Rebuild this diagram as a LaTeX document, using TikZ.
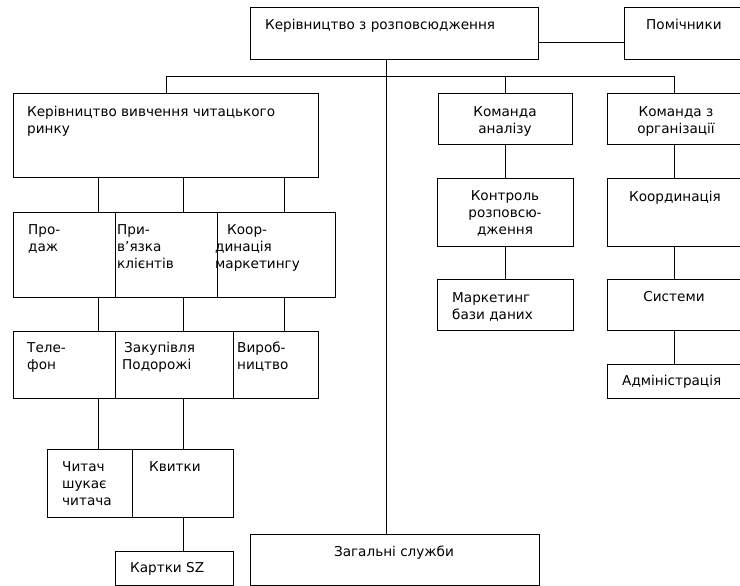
\documentclass[tikz,border=0pt]{standalone}
\usepackage{fontspec}
\setmainfont{DejaVu Sans}
\newcommand\fs{\fontsize{13.6}{16.8}\selectfont}
\tikzset{
  box/.style={draw, line width=0.9pt, inner sep=0pt, anchor=north west},
  lbl/.style={inner sep=0pt, font=\fs, align=left, anchor=north west},
  clbl/.style={inner sep=0pt, font=\fs, align=center, anchor=north},
  conn/.style={line width=0.9pt}
}
\begin{document}
\begin{tikzpicture}[x=1pt,y=-1pt]
\useasboundingbox (0,0) rectangle (740,586);
\clip (0,0) rectangle (740,586);
% boxes
\node[box, minimum width=288, minimum height=51.5] (top) at (250,7.5) {};
\node[box, minimum width=130, minimum height=51.5] (pom) at (624,7.5) {};
\node[box, minimum width=305, minimum height=84] (kvr) at (13,93) {};
\node[box, minimum width=134, minimum height=51] (ka) at (438,93) {};
\node[box, minimum width=145, minimum height=51] (ko) at (607,93) {};
\node[box, minimum width=136, minimum height=68] (kr) at (437,178) {};
\node[box, minimum width=145, minimum height=68] (koord) at (607,178) {};
\node[box, minimum width=136, minimum height=51] (mbd) at (437,279) {};
\node[box, minimum width=145, minimum height=51] (sys) at (607,279) {};
\node[box, minimum width=145, minimum height=34] (adm) at (607,364) {};
\node[box, minimum width=102, minimum height=85] (prod) at (13,212) {};
\node[box, minimum width=102, minimum height=85] (pryv) at (115,212) {};
\node[box, minimum width=118, minimum height=85] (kmark) at (217,212) {};
\node[box, minimum width=102, minimum height=67] (tel) at (13,331) {};
\node[box, minimum width=118, minimum height=67] (zak) at (115,331) {};
\node[box, minimum width=85, minimum height=67] (vyr) at (233,331) {};
\node[box, minimum width=85, minimum height=68] (chyt) at (47,449) {};
\node[box, minimum width=101, minimum height=68] (kvyt) at (132,449) {};
\node[box, minimum width=118, minimum height=34] (kart) at (115,551) {};
\node[box, minimum width=289, minimum height=51] (zag) at (250,534) {};
% coordinates of the bus
\coordinate (busL) at (166,76);
\coordinate (busR) at (674,76);
% connectors
\draw[conn] (top.east |- 0,42) -- (pom.west |- 0,42);
\draw[conn] (busL) -- (busR);
\draw[conn] (busL) -- (kvr.north -| busL);
\draw[conn] (ka.north -| 505,0) -- (505,76);
\draw[conn] (ko.north -| busR) -- (busR);
\draw[conn] (top.south -| 386,0) -- (zag.north -| 386,0);
\draw[conn] (ka.south -| 505,0) -- (kr.north -| 505,0);
\draw[conn] (kr.south -| 505,0) -- (mbd.north -| 505,0);
\draw[conn] (ko.south -| 674,0) -- (koord.north -| 674,0);
\draw[conn] (koord.south -| 674,0) -- (sys.north -| 674,0);
\draw[conn] (sys.south -| 674,0) -- (adm.north -| 674,0);
\draw[conn] (kvr.south -| 98,0) -- (prod.north -| 98,0);
\draw[conn] (kvr.south -| 183,0) -- (pryv.north -| 183,0);
\draw[conn] (kvr.south -| 284,0) -- (kmark.north -| 284,0);
\draw[conn] (prod.south -| 98,0) -- (tel.north -| 98,0);
\draw[conn] (pryv.south -| 183,0) -- (zak.north -| 183,0);
\draw[conn] (kmark.south -| 284,0) -- (vyr.north -| 284,0);
\draw[conn] (tel.south -| 98,0) -- (chyt.north -| 98,0);
\draw[conn] (zak.south -| 183,0) -- (kvyt.north -| 183,0);
\draw[conn] (kvyt.south -| 183,0) -- (kart.north -| 183,0);
% labels (y = first baseline - 11.76)
\node[lbl] at (265,17.5) {\strut Керівництво з розповсюдження};
\node[lbl] at (646,17.5) {\strut Помічники};
\node[lbl] at (27,104.5) {\strut Керівництво вивчення читацького\\ринку};
\node[clbl] at (505,104.5) {\strut Команда\\аналізу};
\node[clbl] at (676,104.5) {\strut Команда з\\організації};
\node[clbl] at (505,188.5) {\strut Контроль\\розповсю-\\дження};
\node[clbl] at (675,189.5) {\strut Координація};
\node[lbl] at (452,290.5) {\strut Маркетинг\\бази даних};
\node[clbl] at (674,289.5) {\strut Системи};
\node[lbl] at (622,373.5) {\strut Адміністрація};
\node[lbl] at (28,222.5) {\strut Про-\\даж};
\node[lbl] at (117,222.5) {\strut При-\\в’язка\\клієнтів};
\node[lbl] at (215,222.5) {\strut \hspace*{12pt}Коор-\\динація\\маркетингу};
\node[lbl] at (27,340.5) {\strut Теле-\\фон};
\node[lbl] at (122,340.5) {\strut \hspace*{2pt}Закупівля\\Подорожі};
\node[lbl] at (237,340.5) {\strut Вироб-\\ництво};
\node[lbl] at (62,459.5) {\strut Читач\\шукає\\читача};
\node[lbl] at (149,459.5) {\strut Квитки};
\node[lbl] at (130,560.5) {\strut Картки SZ};
\node[clbl] at (394,544.5) {\strut Загальні служби};
\end{tikzpicture}
\end{document}
